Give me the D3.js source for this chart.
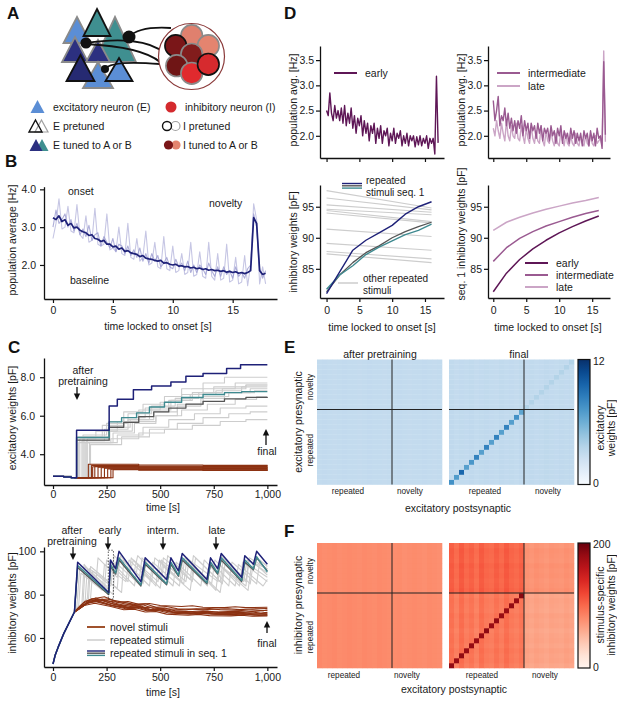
<!DOCTYPE html>
<html><head><meta charset="utf-8">
<script src="https://cdn.jsdelivr.net/npm/d3@7"></script>
<style>
html,body{margin:0;padding:0;background:#fff;}
svg text{font-family:"Liberation Sans",Arial,Helvetica,sans-serif;}
</style></head><body>
<svg id="fig" width="617" height="703"></svg>
<script>
// ===================== DATA =====================
// Panel B: population average [Hz], sampled every 0.25 s from onset
const bStep = 0.25;
const bMean = [
 3.25,3.2,3.3,3.15,3.2,3.05,3.1,2.98,
 3.0,2.92,2.88,2.85,2.78,2.8,2.7,2.68,
 2.62,2.65,2.55,2.55,2.48,2.5,2.42,2.45,
 2.36,2.38,2.32,2.3,2.28,2.22,2.25,2.18,
 2.16,2.15,2.12,2.1,2.12,2.05,2.06,2.02,
 2.0,2.02,1.97,1.98,1.95,1.96,1.92,1.94,
 1.9,1.92,1.88,1.9,1.86,1.88,1.85,1.86,
 1.83,1.85,1.81,1.83,1.8,1.82,1.78,1.8,
 1.77,1.8,1.85,3.25,3.1,1.85,1.75,1.78];
const bTraceMid = [
 3.0,3.45,3.1,3.2,3.35,3.0,3.2,2.9,
 3.1,2.8,2.95,2.75,3.05,2.65,2.8,2.85,
 2.5,2.75,2.6,2.45,2.7,2.35,2.55,2.5,
 2.3,2.5,2.25,2.4,2.2,2.45,2.1,2.3,
 2.05,2.3,2.1,2.25,1.95,2.05,2.2,1.95,
 1.9,2.15,1.95,2.05,1.85,2.1,1.8,2.0,
 1.8,2.0,1.9,1.75,2.05,1.85,1.7,1.95,
 1.7,1.95,1.75,1.85,1.65,1.95,1.7,1.8,
 1.65,1.9,2.0,3.35,3.0,1.9,1.65,1.85];
const bTraceLight = [
 2.7,3.1,3.75,2.95,3.0,3.55,2.9,2.85,
 3.6,2.8,2.7,3.3,2.6,2.65,3.5,2.55,
 2.5,2.55,3.35,2.4,2.45,2.35,3.0,2.3,
 2.25,3.1,2.2,2.15,2.7,2.1,2.2,2.9,
 2.0,2.05,2.6,1.95,1.9,2.75,1.9,1.85,
 2.5,1.8,1.85,2.3,1.75,1.8,2.6,1.7,
 1.75,2.35,1.7,1.65,2.6,1.7,1.6,2.3,
 1.6,1.65,2.55,1.55,1.6,2.2,1.5,1.55,
 2.25,1.45,2.0,3.62,3.2,1.5,1.95,1.5];
const bTicksX = [0,5,10,15], bTicksY = [2,3,4];

// Panel C (top): excitatory weights [pF] vs time [s]  (step series [t, value])
const cExcNavy = [[0,2.85],[50,2.82],[85,2.78],[110,5.25],[262,6.5],[300,6.85],[375,7.35],[460,7.55],[550,7.75],[620,8.05],[700,8.2],[810,8.45],[875,8.65],[1000,8.65]];
const cExcTeal = [[0,2.85],[50,2.82],[85,2.78],[110,4.87],[262,5.68],[320,5.9],[390,6.15],[450,6.45],[520,6.7],[600,6.95],[700,7.1],[800,7.2],[880,7.25],[1000,7.25]];
const cExcGray = [[0,2.85],[50,2.82],[85,2.78],[110,4.73],[262,5.4],[330,5.65],[400,5.95],[470,6.2],[540,6.4],[620,6.6],[700,6.75],[800,6.88],[900,6.95],[1000,6.96]];
const cExcRep = [
 [[0,2.85],[85,2.78],[115,4.9],[262,5.7],[330,6.2],[420,6.6],[520,7.0],[600,7.4],[700,7.7],[800,8.0],[1000,8.0]],
 [[0,2.85],[85,2.78],[125,4.8],[200,5.2],[300,5.7],[400,6.3],[500,6.7],[600,7.1],[700,7.4],[850,7.7],[1000,7.7]],
 [[0,2.85],[85,2.78],[135,4.7],[240,5.3],[350,5.8],[450,6.3],[550,6.8],[650,7.2],[750,7.5],[900,7.6],[1000,7.6]],
 [[0,2.85],[85,2.78],[145,4.9],[230,5.5],[330,5.9],[430,6.4],[540,6.8],[640,7.1],[760,7.3],[880,7.5],[1000,7.5]],
 [[0,2.85],[85,2.78],[150,4.6],[280,5.1],[380,5.6],[480,6.0],[580,6.5],[690,6.9],[800,7.2],[920,7.4],[1000,7.4]],
 [[0,2.85],[85,2.78],[160,4.8],[260,5.4],[360,5.8],[470,6.2],[580,6.6],[700,7.0],[820,7.2],[940,7.3],[1000,7.3]],
 [[0,2.85],[85,2.78],[170,4.6],[300,5.0],[420,5.4],[540,5.8],[660,6.1],[780,6.4],[900,6.5],[1000,6.5]],
 [[0,2.85],[85,2.78],[175,4.5],[320,4.9],[450,5.3],[580,5.6],[700,5.9],[820,6.1],[920,6.2],[1000,6.2]],
 [[0,2.85],[85,2.78],[120,4.6],[270,4.8],[400,5.1],[520,5.3],[650,5.5],[780,5.7],[900,5.8],[1000,5.8]],
 [[0,2.85],[85,2.78],[140,5.0],[250,5.6],[350,6.1],[460,6.5],[570,6.9],[680,7.2],[790,7.4],[900,7.6],[1000,7.6]],
 [[0,2.85],[85,2.78],[155,4.7],[265,5.2],[370,5.7],[480,6.0],[600,6.3],[720,6.6],[850,6.85],[950,7.0],[1000,7.0]]
];
const cExcNov = [
 [[100,2.78],[165,3.48],[400,3.44],[700,3.42],[1000,3.4]],
 [[100,2.78],[180,3.42],[400,3.38],[700,3.36],[1000,3.35]],
 [[100,2.78],[195,3.37],[400,3.34],[700,3.32],[1000,3.31]],
 [[100,2.78],[210,3.33],[400,3.3],[700,3.28],[1000,3.27]],
 [[100,2.78],[225,3.3],[400,3.27],[700,3.25],[1000,3.24]],
 [[100,2.78],[240,3.27],[400,3.24],[700,3.22],[1000,3.21]],
 [[100,2.78],[255,3.24],[400,3.21],[700,3.19],[1000,3.18]],
 [[100,2.78],[270,3.22],[400,3.19],[700,3.17],[1000,3.16]],
 [[100,2.78],[280,3.2],[400,3.17],[700,3.15],[1000,3.14]],
 [[100,2.78],[185,3.35],[400,3.32],[700,3.3],[1000,3.29]]
];
const cTicksX = [0,250,500,750,1000], cExcTicksY = [4,6,8], cInhTicksY = [60,80,100];

// Panel C (bottom): inhibitory weights [pF] vs time [s]
const inhStart = [[0,48],[10,52],[25,56],[50,62],[75,67],[100,72]];
const cInhNavy = [[115,95],[260,81],[268,96],[292,92],[308,100],[410,86],[430,97],[530,87],[550,97],[585,91],[603,99],[718,87],[735,97],[768,92],[785,99],[880,88],[895,98],[935,94],[950,100],[1000,94]];
const cInhTeal = [[115,93.5],[260,80.5],[268,94],[292,90],[308,97],[410,84.5],[430,95],[530,85],[550,95],[585,89],[603,97],[718,85.5],[735,95],[768,90],[785,97],[880,86.5],[895,96],[935,92],[950,97.5],[1000,90.5]];
const cInhGray = [[115,92.5],[260,80],[268,93],[292,89.5],[308,96],[410,84],[430,94],[530,84.5],[550,94],[585,88.5],[603,96],[718,85],[735,94],[768,89.5],[785,96],[880,86],[895,95],[935,91.5],[950,97],[1000,91]];
const cInhRep = [
 [[110,73],[125,93],[200,85],[210,97],[300,88],[315,98],[420,85],[435,96],[560,84],[575,95],[690,84],[705,96],[820,84],[835,95],[950,85],[965,96],[1000,93]],
 [[135,76],[145,94],[240,82],[250,96],[350,86],[365,97],[480,84],[495,96],[610,85],[625,97],[740,85],[755,96],[870,84],[885,95],[1000,86]],
 [[150,77],[160,92],[280,80],[290,95],[400,85],[415,97],[520,86],[535,98],[650,86],[665,97],[790,85],[805,96],[920,85],[935,95],[1000,89]],
 [[165,77],[175,93],[320,81],[330,96],[450,84],[465,95],[590,84],[605,96],[720,84],[735,95],[850,84],[865,94],[980,84],[1000,87]],
 [[120,75],[130,90],[230,82],[240,94],[340,86],[355,96],[460,86],[475,97],[600,86],[615,97],[760,82],[775,94],[900,84],[915,96],[1000,90]],
 [[175,78],[185,91],[300,83],[310,97],[380,91],[395,98],[500,87],[515,97],[640,87],[655,98],[780,86],[795,97],[900,86],[915,97],[1000,92]],
 [[140,76],[150,93],[260,83],[275,95],[380,84],[395,94],[500,83],[515,93],[640,82],[655,93],[780,81],[795,92],[910,82],[925,93],[1000,88]],
 [[160,78],[170,92],[270,84],[285,98],[360,91],[375,96],[490,86],[505,96],[620,86],[635,96],[770,86],[785,98],[890,86],[905,96],[1000,92]]
];
const cInhNov = [
 [[100,72],[140,76],[180,78],[260,77],[300,76.5],[350,76.8],[400,75.5],[450,75.9],[500,75],[600,74.5],[650,74.9],[700,74.2],[800,74],[850,74.4],[900,74],[1000,74.2]],
 [[100,72],[150,77],[200,78.5],[270,76],[320,75],[370,75.4],[420,74],[470,74.3],[520,73.5],[620,73],[670,73.5],[720,73.2],[820,73.5],[870,73.1],[920,73.4],[1000,73.6]],
 [[100,72],[160,76],[210,77],[280,75],[350,74],[400,74.4],[450,73],[500,73.3],[550,72.5],[650,72.2],[700,72.6],[750,72],[850,72.3],[900,72.0],[950,72.4],[1000,72.8]],
 [[100,72],[170,77],[230,78],[290,76],[360,74.5],[410,74.8],[460,73],[510,73.2],[560,72],[660,71.5],[710,71.9],[760,71.3],[860,71.5],[910,71.1],[960,71.2],[1000,71.5]],
 [[100,72],[130,75],[190,77],[270,75],[340,73.5],[390,73.8],[440,72.5],[490,72.7],[540,71.5],[640,71],[690,71.4],[740,71],[840,70.8],[890,71.1],[940,70.6],[1000,70.8]],
 [[100,72],[180,78],[240,79],[300,76.5],[370,75],[420,75.3],[470,73.5],[520,73.8],[570,72.5],[670,72],[720,72.4],[770,71.8],[870,71.7],[920,72.0],[970,71.5],[1000,71.8]],
 [[100,72],[145,75],[195,76],[270,74.5],[330,73],[380,73.3],[430,72],[480,72.2],[530,71],[630,70.5],[680,70.9],[730,70.3],[830,70.2],[880,70.5],[930,70],[1000,70.2]],
 [[100,72],[155,76],[220,77.5],[285,75.5],[360,74],[410,74.3],[460,72.7],[510,73.0],[560,71.8],[660,71.2],[710,71.6],[760,71],[860,70.6],[910,70.9],[960,70.4],[1000,70.5]],
 [[100,72],[175,77],[250,78],[300,77],[380,75.5],[430,75.8],[480,74.2],[530,74.5],[580,73.5],[680,73.2],[730,73.6],[780,73],[880,72.7],[930,73.0],[980,72.6],[1000,72.9]],
 [[100,72],[165,76.5],[215,77],[275,75],[345,73.8],[395,74.1],[445,72.8],[495,73.1],[545,72],[645,71.6],[695,72.0],[745,71.6],[845,71.2],[895,71.5],[945,71],[1000,71.2]]
];

// Panel D (top): population avg. [Hz], every 0.25 s
const dStep = 0.25;
const dRateEarly = [
 2.5,2.4,2.85,2.45,2.3,2.6,2.35,2.5,
 2.3,2.55,2.25,2.6,2.2,2.45,2.25,2.55,
 2.15,2.4,2.05,2.35,2.2,2.4,2.0,2.3,
 2.05,2.25,1.9,2.2,2.05,2.25,1.85,2.15,
 1.95,2.2,1.85,2.1,2.0,2.15,1.8,2.05,
 1.9,2.15,1.85,2.05,1.95,2.1,1.8,2.0,
 1.85,2.05,1.8,2.0,1.9,2.0,1.78,1.98,
 1.82,2.0,1.8,1.95,1.85,2.0,1.75,1.95,
 1.85,1.95,1.64,3.18,1.86];
const dRateInterm = [
 2.7,2.3,2.5,2.78,2.2,2.4,2.3,2.55,
 2.2,2.45,2.15,2.35,2.1,2.3,2.05,2.3,
 2.15,2.4,2.0,2.3,2.1,2.25,1.95,2.25,
 2.1,2.2,1.95,2.25,2.05,2.2,1.9,2.15,
 2.05,2.15,1.9,2.2,2.0,2.1,1.85,2.15,
 2.0,2.2,1.85,2.1,1.95,2.05,1.85,2.15,
 1.95,2.1,1.85,2.05,1.9,2.05,1.8,2.1,
 1.95,2.05,1.8,2.1,1.9,2.05,1.8,2.15,
 1.95,2.0,1.75,3.47,2.02];
const dRateLate = [
 2.15,2.0,2.3,2.1,1.95,2.25,2.05,1.9,
 2.3,2.0,1.9,2.2,2.0,1.95,2.25,1.95,
 1.9,2.2,2.0,1.85,2.15,1.95,1.85,2.2,
 1.95,1.85,2.1,1.9,1.85,2.2,1.9,1.8,
 2.1,1.9,1.85,2.1,1.9,1.8,2.05,1.85,
 1.8,2.1,1.9,1.8,2.05,1.85,1.8,2.0,
 1.85,1.8,2.05,1.85,1.8,2.0,1.85,1.8,
 2.0,1.85,1.8,2.05,1.85,1.8,2.0,1.85,
 1.9,1.95,1.8,3.68,1.88];
const dRateTicksY = [2.0,2.5,3.0,3.5], dTicksX = [0,5,10,15];

// Panel D (bottom): inhibitory weights [pF] vs time locked to onset
const dWT = [0,2,4,6,8,10,12,14,16];
const dSeqNavy = [81.0,84.5,88.0,89.6,90.8,92.0,93.8,95.0,95.8];
const dSeqGray = [81.3,84.0,86.0,87.6,88.7,90.0,91.0,91.8,92.5];
const dSeqTeal = [81.7,84.0,85.5,87.3,88.5,89.5,90.5,91.2,92.2];
const dOtherStart = [97.6,96.4,95.3,94.6,94.4,94.0,91.4,89.1,87.8,87.4];
const dOtherEnd   = [94.8,94.5,94.1,93.7,92.6,92.4,90.2,88.0,86.6,86.0];
const dWEarly  = [81.3,84.3,86.5,88.2,89.6,90.8,91.8,92.7,93.5];
const dWInterm = [86.2,88.4,89.9,91.0,91.9,92.6,93.3,93.9,94.4];
const dWLate   = [91.2,92.5,93.3,94.0,94.6,95.1,95.6,96.0,96.5];
const dWTicksY = [85,90,95];

// Panels E/F: 25 x 25 weight matrices (15 repeated + 10 novelty stimuli)
const nRep = 15, nNov = 10;
const eMax = 12, fMax = 200;
const ePreBase = [[3.0,3.0],[3.0,3.0]];          // [preNovelty][postNovelty]
const ePreColVar = [0,0.05,0,-0.05,0,0.05,0,0,-0.05,0,0.05,0,0,-0.05,0, 0,0.05,0,-0.05,0,0,0.05,0,-0.05,0];
const eFinBase = [[3.05,3.1],[3.0,3.05]];
const eFinColVar = [0.1,-0.05,0.05,0,0.1,-0.05,0.05,0.1,0,-0.05,0.1,0,0.05,-0.05,0.1, 0,0.05,-0.05,0,0.1,0,-0.05,0.05,0,0.05];
const eFinDiag = [7.5,7.0,9.5,6.8,7.2,8.2,6.8,8.2,6.8,8.2,6.8,8.2,6.8,7.5,6.5, 3.7,3.7,3.7,3.7,3.7,3.7,3.7,3.7,3.7,3.7];
const fPreBase = [[80,79],[79,78]];
const fPreColVar = [1,-1,0,1,-1,0,1,0,-1,1,0,-1,1,0,-1, 0,1,-1,0,1,0,-1,1,0,-1];
const fFinBase = [[90,64],[102,74]];
const fFinColVar = [5,-4,7,-2,3,-5,6,-1,-3,4,-2,7,0,-3,2, 1,-1,2,0,-2,1,0,-1,2,0];
const fFinRowVar = [-2,1,0,2,-1,1,0,-2,1,0,2,-1,0,1,-1, 2,0,-1,1,0,2,-1,0,1,-2];
const fFinDiag = [182,178,183,179,181,178,180,184,179,181,180,178,182,180,186];

// ===================== DRAWING =====================
const FONT = '"Liberation Sans", Arial, Helvetica, sans-serif';
const FS = 10.5;
const svg = d3.select('#fig');
svg.append('rect').attr('width',617).attr('height',703).attr('fill','#fff');
const defs = svg.append('defs');
const INK = '#1a1a1a';
const cNavy = '#1e2178', cTeal = '#3f8a90', cDGray = '#555555', cLGray = '#cdcdcd', cBrown = '#8c3212';

function txt(x,y,s,o={}){
  const t = svg.append('text').attr('x',x).attr('y',y).text(s)
   .attr('font-size',o.size||FS).attr('fill',o.fill||INK).attr('text-anchor',o.anchor||'start');
  if(o.weight) t.attr('font-weight',o.weight);
  return t;
}
function vtxt(x,y,s,size=FS){
  svg.append('text').attr('transform',`translate(${x},${y}) rotate(-90)`)
   .attr('text-anchor','middle').attr('dominant-baseline','central')
   .attr('font-size',size).attr('fill',INK).text(s);
}
function arrow(x,y1,y2){
  const dir = y2>y1?1:-1;
  svg.append('line').attr('x1',x).attr('x2',x).attr('y1',y1).attr('y2',y2-dir*5)
   .attr('stroke','#111').attr('stroke-width',1.3);
  svg.append('path').attr('d',`M${x-3.2},${y2-dir*6.5}L${x+3.2},${y2-dir*6.5}L${x},${y2}Z`).attr('fill','#111');
}
function axes(x,y,xt,yt,o={}){
  const yb = y.range()[0], xl = x.range()[0];
  const ax = d3.axisBottom(x).tickValues(xt).tickSize(4).tickSizeOuter(0).tickPadding(o.xpad??3);
  if(o.xfmt) ax.tickFormat(o.xfmt);
  const ay = d3.axisLeft(y).tickValues(yt).tickSize(4).tickSizeOuter(0).tickPadding(o.ypad??3);
  if(o.yfmt) ay.tickFormat(o.yfmt);
  const gx = svg.append('g').attr('transform',`translate(0,${yb})`).call(ax);
  const gy = svg.append('g').attr('transform',`translate(${xl},0)`).call(ay);
  [gx,gy].forEach(g=>{
    g.attr('font-family',FONT);
    g.select('.domain').attr('stroke','#111').attr('stroke-width',1.3);
    g.selectAll('.tick line').attr('stroke','#111').attr('stroke-width',1.2);
    g.selectAll('.tick text').attr('font-size',FS).attr('fill',INK);
  });
}
function plotPath(data, gen, stroke, w, op=1){
  svg.append('path').datum(data).attr('d',gen).attr('fill','none')
   .attr('stroke',stroke).attr('stroke-width',w).attr('stroke-opacity',op)
   .attr('stroke-linejoin','round');
}

// ---------- Panel letters ----------
[['A',7,19],['B',5,167],['C',8,353],['D',284,19],['E',284,353],['F',284,537]]
 .forEach(([l,x,y])=>txt(x,y,l,{size:17,weight:'bold',fill:'#111'}));

// ---------- Panel A (schematic) ----------
const cLB='#5b8ed5', cTl='#3f8f90', cNv='#2c3080', cNvD='#262a72', cGr='#8a8a8a';
function triPath(cx,ay,by,hw){return `M${cx},${ay}L${cx+hw},${by}L${cx-hw},${by}Z`;}
const tris = [
 {cx:77,ay:17,by:43,hw:13.5,f:cLB,s:cGr},
 {cx:115,ay:17,by:62,hw:21,f:cTl,s:cGr},
 {cx:97,ay:9,by:36,hw:13.5,f:cTl,s:'#111'},
 {cx:75,ay:37,by:62,hw:13,f:cNv,s:cGr},
 {cx:98,ay:40,by:62,hw:12,f:cNv,s:cGr},
 {cx:98,ay:62,by:88,hw:15,f:cLB,s:cGr},
 {cx:80.5,ay:55,by:81,hw:14,f:cNvD,s:'#111'},
 {cx:119,ay:58,by:81,hw:13.5,f:cLB,s:'#111'}
];
tris.forEach(t=>svg.append('path').attr('d',triPath(t.cx,t.ay,t.by,t.hw))
  .attr('fill',t.f).attr('stroke',t.s).attr('stroke-width',1.8).attr('stroke-linejoin','miter'));
['M129,37 Q139,26 171,28','M86,43 C120,38 150,40 164,53','M86,44 C125,46 148,52 160,62','M105,69 Q111,60 160,64']
 .forEach(d=>svg.append('path').attr('d',d).attr('fill','none').attr('stroke','#111').attr('stroke-width',1.8));
[[86,43,5.6],[129,37,6.5],[105,69,4]].forEach(([x,y,r])=>svg.append('circle').attr('cx',x).attr('cy',y).attr('r',r).attr('fill','#111'));
svg.append('circle').attr('cx',191.5).attr('cy',56.5).attr('r',33).attr('fill','#fff').attr('stroke','#8b3a3a').attr('stroke-width',1.2);
const icirc = [
 [191.7,35.7,'#e0806e',cGr],[208.3,45.7,'#e4846f',cGr],[175.7,45.7,'#7a1618','#111'],
 [191.7,54.3,'#821c1c',cGr],[176.7,65.7,'#6f1515',cGr],[191.7,73.3,'#e02a2e',cGr],[208.3,64.3,'#d62a2e','#111']
];
icirc.forEach(([x,y,f,s])=>svg.append('circle').attr('cx',x).attr('cy',y).attr('r',10.8).attr('fill',f).attr('stroke',s).attr('stroke-width',1.6));
// legend
svg.append('path').attr('d',triPath(37.5,100,113,7)).attr('fill',cLB);
txt(53,111,'excitatory neuron (E)');
svg.append('circle').attr('cx',171).attr('cy',107).attr('r',5.5).attr('fill','#d42a2e');
txt(185,111,'inhibitory neuron (I)');
svg.append('path').attr('d',triPath(41.5,120,132,6.5)).attr('fill','#fff').attr('stroke','#a0a0a0').attr('stroke-width',1.2);
svg.append('path').attr('d',triPath(35.5,120,132,6.5)).attr('fill','none').attr('stroke','#111').attr('stroke-width',1.4);
txt(53,130,'E pretuned');
svg.append('circle').attr('cx',175.5).attr('cy',126).attr('r',4.5).attr('fill','#fff').attr('stroke','#a0a0a0').attr('stroke-width',1.2);
svg.append('circle').attr('cx',167).attr('cy',126).attr('r',4.5).attr('fill','#fff').attr('stroke','#111').attr('stroke-width',1.4);
txt(183,130,'I pretuned');
svg.append('path').attr('d',triPath(42,139,151,6.5)).attr('fill',cTl);
svg.append('path').attr('d',triPath(36,139,151,6.5)).attr('fill',cNv);
txt(53,149,'E tuned to A or B');
svg.append('circle').attr('cx',176).attr('cy',145).attr('r',4.6).attr('fill','#e4846f');
svg.append('circle').attr('cx',168.5).attr('cy',145).attr('r',4.6).attr('fill','#7a1618');
txt(183,149,'I tuned to A or B');

// ---------- Panel B ----------
const xB = d3.scaleLinear([-0.75,18.7],[44,277]);
const yB = d3.scaleLinear([1.1,4.07],[299,186.7]);
const lineB = d3.line().x((d,i)=>xB(i*bStep)).y(d=>yB(d));
plotPath(bTraceLight,lineB,'#c6c6e4',1.1);
plotPath(bTraceMid,lineB,'#9a9acf',1.1,0.8);
plotPath(bMean,lineB,cNavy,1.7);
axes(xB,yB,bTicksX,bTicksY,{xpad:4,ypad:4});
vtxt(12,240,'population average [Hz]');
txt(158,330,'time locked to onset [s]',{anchor:'middle'});
txt(68,195,'onset'); txt(209,207,'novelty'); txt(70,284,'baseline');

// ---------- Panel C top ----------
const xC = d3.scaleLinear([-42,1045],[44,277]);
const yCt = d3.scaleLinear([2.4,9.0],[485,358]);
const stepC = d3.line().x(d=>xC(d[0])).y(d=>yCt(d[1])).curve(d3.curveStepAfter);
cExcRep.forEach(s=>plotPath(s,stepC,cLGray,1.1));
cExcNov.forEach(s=>plotPath(s,stepC,cBrown,1.1));
plotPath(cExcGray,stepC,cDGray,1.3);
plotPath(cExcTeal,stepC,cTeal,1.4);
plotPath(cExcNavy,stepC,cNavy,1.5);
axes(xC,yCt,cTicksX,cExcTicksY,{xpad:2,ypad:5});
vtxt(12,418,'excitatory weights [pF]');
txt(163,511,'time [s]',{anchor:'middle'});
txt(83,373.5,'after',{anchor:'middle'}); txt(83,385,'pretraining',{anchor:'middle'});
arrow(77,387,400);
txt(267,455,'final',{anchor:'middle'}); arrow(266,445,429);

// ---------- Panel C bottom ----------
const yCb = d3.scaleLinear([46.6,102],[667,547]);
const lineCb = d3.line().x(d=>xC(d[0])).y(d=>yCb(d[1]));
cInhRep.forEach(s=>plotPath(inhStart.concat(s),lineCb,cLGray,1.1));
cInhNov.forEach(s=>plotPath(s,lineCb,cBrown,1.1));
plotPath(inhStart.concat(cInhGray),lineCb,cDGray,1.3);
plotPath(inhStart.concat(cInhTeal),lineCb,cTeal,1.4);
plotPath(inhStart.concat(cInhNavy),lineCb,cNavy,1.5);
svg.append('rect').attr('x',xC(258)).attr('y',yCb(100.5)).attr('width',xC(282)-xC(258)).attr('height',yCb(78)-yCb(100.5))
 .attr('fill','none').attr('stroke','#333').attr('stroke-width',0.8).attr('stroke-dasharray','1.5,1.5');
axes(xC,yCb,cTicksX,cInhTicksY,{xpad:3,ypad:4});
vtxt(12,603,'inhibitory weights [pF]');
txt(163,696,'time [s]',{anchor:'middle'});
txt(72,533.5,'after',{anchor:'middle'}); txt(72,545,'pretraining',{anchor:'middle'}); arrow(73,547,560);
txt(110,534,'early',{anchor:'middle'}); arrow(108,537,550);
txt(163,534,'interm.',{anchor:'middle'}); arrow(163,537,550);
txt(217,534,'late',{anchor:'middle'}); arrow(216,537,550);
txt(267,647,'final',{anchor:'middle'}); arrow(267,633,621);
svg.append('line').attr('x1',87).attr('x2',105).attr('y1',627).attr('y2',627).attr('stroke','#a0522d').attr('stroke-width',2);
txt(110,631,'novel stimuli');
svg.append('line').attr('x1',87).attr('x2',105).attr('y1',640).attr('y2',640).attr('stroke',cLGray).attr('stroke-width',1.5);
txt(110,644,'repeated stimuli');
[[651,cNavy],[653.2,cDGray],[655.4,cTeal]].forEach(([y,c])=>svg.append('line').attr('x1',87).attr('x2',105).attr('y1',y).attr('y2',y).attr('stroke',c).attr('stroke-width',1.4));
txt(110,657,'repeated stimuli in seq. 1');

// ---------- Panel D top ----------
const xD1 = d3.scaleLinear([-1,17.9],[320,444]);
const xD2 = d3.scaleLinear([-0.8,17.7],[488,610]);
const yDt = d3.scaleLinear([1.56,3.78],[158,46]);
const cEarly='#5e1656', cInterm='#9a5a91', cLate='#cba5c6';
plotPath(dRateEarly,d3.line().x((d,i)=>xD1(i*dStep)).y(d=>yDt(d)),cEarly,1.4);
const lineD2 = d3.line().x((d,i)=>xD2(i*dStep)).y(d=>yDt(d));
plotPath(dRateLate,lineD2,cLate,1.4);
plotPath(dRateInterm,lineD2,cInterm,1.4);
axes(xD1,yDt,dTicksX,dRateTicksY,{xfmt:()=>'',yfmt:d3.format('.1f'),ypad:2});
axes(xD2,yDt,dTicksX,dRateTicksY,{xfmt:()=>'',yfmt:d3.format('.1f'),ypad:2});
vtxt(293,100,'population avg. [Hz]'); vtxt(461,100,'population avg. [Hz]');
svg.append('line').attr('x1',334).attr('x2',357).attr('y1',73).attr('y2',73).attr('stroke',cEarly).attr('stroke-width',2);
txt(365,77,'early');
svg.append('line').attr('x1',497).attr('x2',520).attr('y1',73).attr('y2',73).attr('stroke',cInterm).attr('stroke-width',2);
txt(528,77,'intermediate');
svg.append('line').attr('x1',497).attr('x2',520).attr('y1',86).attr('y2',86).attr('stroke',cLate).attr('stroke-width',2);
txt(528,90,'late');

// ---------- Panel D bottom ----------
const yDb = d3.scaleLinear([80.3,98.5],[298,185]);
const lineDb1 = d3.line().x((d,i)=>xD1(dWT[i])).y(d=>yDb(d));
const lineDb2 = d3.line().x((d,i)=>xD2(dWT[i])).y(d=>yDb(d));
dOtherStart.forEach((v,k)=>{
  svg.append('line').attr('x1',xD1(dWT[0])).attr('y1',yDb(v)).attr('x2',xD1(dWT[dWT.length-1])).attr('y2',yDb(dOtherEnd[k]))
   .attr('stroke',cLGray).attr('stroke-width',1.1);
});
plotPath(dSeqGray,lineDb1,cDGray,1.3);
plotPath(dSeqTeal,lineDb1,cTeal,1.4);
plotPath(dSeqNavy,lineDb1,cNavy,1.4);
plotPath(dWLate,lineDb2,cLate,1.5);
plotPath(dWInterm,lineDb2,cInterm,1.5);
plotPath(dWEarly,lineDb2,cEarly,1.5);
axes(xD1,yDb,dTicksX,dWTicksY,{xpad:5,ypad:2});
axes(xD2,yDb,dTicksX,dWTicksY,{xpad:5,ypad:2});
vtxt(293,242,'inhibitory weights [pF]');
vtxt(461,234,'seq. 1 inhibitory weights [pF]');
txt(382,331,'time locked to onset [s]',{anchor:'middle'});
txt(548,331,'time locked to onset [s]',{anchor:'middle'});
[[183.5,cNavy],[185.8,cDGray],[188.1,cTeal]].forEach(([y,c])=>svg.append('line').attr('x1',342).attr('x2',362).attr('y1',y).attr('y2',y).attr('stroke',c).attr('stroke-width',1.4));
txt(366,184,'repeated',{size:10}); txt(366,195.5,'stimuli seq. 1',{size:10});
svg.append('line').attr('x1',338).attr('x2',358).attr('y1',283).attr('y2',283).attr('stroke',cLGray).attr('stroke-width',1.5);
txt(363,282,'other repeated',{size:10}); txt(363,293.5,'stimuli',{size:10});
[[263,cEarly,'early'],[275,cInterm,'intermediate'],[287,cLate,'late']].forEach(([y,c,s])=>{
  svg.append('line').attr('x1',525).attr('x2',548).attr('y1',y).attr('y2',y).attr('stroke',c).attr('stroke-width',2);
  txt(556,y+4,s);
});

// ---------- Panels E & F (matrices) ----------
const N = nRep+nNov, cell = 5;
function matrix(x0,y0,valFn,color){
  const xs = d3.scaleBand(d3.range(N),[x0,x0+N*cell]);
  const ys = d3.scaleBand(d3.range(N).reverse(),[y0,y0+N*cell]);
  const cells=[];
  for(let j=0;j<N;j++) for(let i=0;i<N;i++) cells.push({i,j,v:valFn(i,j)});
  svg.append('g').selectAll('rect').data(cells).join('rect')
   .attr('x',d=>xs(d.i)).attr('y',d=>ys(d.j)).attr('width',xs.bandwidth()+0.3).attr('height',ys.bandwidth()+0.3)
   .attr('fill',d=>color(d.v));
  const xSep = xs(nRep), ySep = ys(nRep)+ys.bandwidth();
  svg.append('line').attr('x1',xSep).attr('x2',xSep).attr('y1',y0).attr('y2',y0+N*cell).attr('stroke','#222').attr('stroke-width',1);
  svg.append('line').attr('x1',x0).attr('x2',x0+N*cell).attr('y1',ySep).attr('y2',ySep).attr('stroke','#222').attr('stroke-width',1);
}
const blk = k => k>=nRep?1:0;
const colE = d3.scaleSequential(d3.interpolateBlues).domain([0,eMax]);
const colF = d3.scaleSequential(d3.interpolateReds).domain([0,fMax]);
const mxL = 317, mxR = 449, eY = 359.5, fY = 543;
matrix(mxL,eY,(i,j)=>ePreBase[blk(j)][blk(i)]+ePreColVar[i],colE);
matrix(mxR,eY,(i,j)=>i===j?eFinDiag[i]:eFinBase[blk(j)][blk(i)]+eFinColVar[i],colE);
matrix(mxL,fY,(i,j)=>fPreBase[blk(j)][blk(i)]+fPreColVar[i],colF);
matrix(mxR,fY,(i,j)=>(i===j&&i<nRep)?fFinDiag[i]:fFinBase[blk(j)][blk(i)]+fFinColVar[i]+fFinRowVar[j],colF);

function colorbar(id,x,y,w,h,interp){
  const g = defs.append('linearGradient').attr('id',id).attr('x1',0).attr('y1',1).attr('x2',0).attr('y2',0);
  d3.range(0,1.0001,0.1).forEach(t=>g.append('stop').attr('offset',t).attr('stop-color',interp(t)));
  svg.append('rect').attr('x',x).attr('y',y).attr('width',w).attr('height',h).attr('fill',`url(#${id})`).attr('stroke','#111').attr('stroke-width',1.2);
}
colorbar('cbE',578,eY,12,125,d3.interpolateBlues);
colorbar('cbF',578,fY,12,125,d3.interpolateReds);
txt(593,365,String(eMax)); txt(593,487,'0');
txt(593,548,String(fMax)); txt(593,671,'0');
vtxt(600,428,'excitatory'); vtxt(611,428,'weights [pF]');
vtxt(600,605,'stimulus-specific'); vtxt(611,605,'inhibitory weights [pF]');

txt(380,358,'after pretraining',{anchor:'middle'});
txt(519,358,'final',{anchor:'middle'});
[[348,'repeated'],[410,'novelty'],[485,'repeated'],[548,'novelty']].forEach(([x,s])=>txt(x,494,s,{anchor:'middle',size:8.2}));
[[344,'repeated'],[407,'novelty'],[482,'repeated'],[545,'novelty']].forEach(([x,s])=>txt(x,678,s,{anchor:'middle',size:8.2}));
txt(458,512,'excitatory postsynaptic',{anchor:'middle'});
txt(454,693,'excitatory postsynaptic',{anchor:'middle'});
vtxt(310,387,'novelty',8.2); vtxt(310,450,'repeated',8.2);
vtxt(310,571,'novelty',8.2); vtxt(310,637,'repeated',8.2);
vtxt(298,422,'excitatory presynaptic'); vtxt(298,605,'inhibitory presynaptic');
</script>
</body></html>
